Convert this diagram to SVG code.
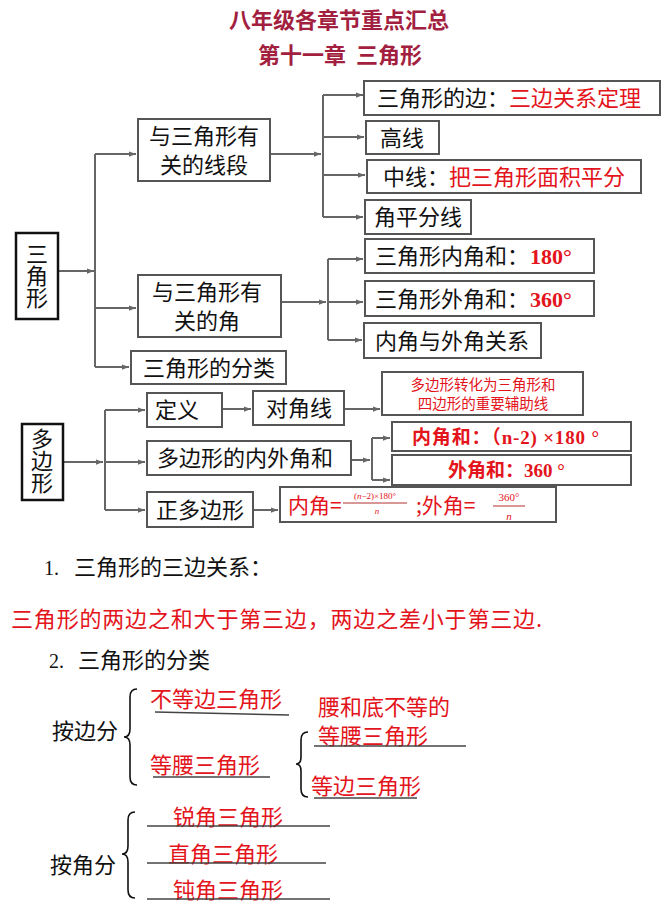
<svg xmlns="http://www.w3.org/2000/svg" width="664" height="912" viewBox="0 0 664 912">
<style>
text{font-family:"Noto Sans CJK SC","Noto Sans",sans-serif;font-size:22px;fill:#111}
.r{fill:#e3141b}
.t{fill:#a31f3f;font-weight:bold}
.b{fill:#fff;stroke:#555;stroke-width:2}
.bk{fill:#fff;stroke:#111;stroke-width:2.5}
.c path{fill:none;stroke:#666;stroke-width:2}
.num{font-family:"Liberation Serif",serif;font-weight:bold}
.ser{font-family:"Liberation Serif",serif}
.ul{stroke:#444;stroke-width:1.5;fill:none}
.br{stroke:#111;stroke-width:1.6;fill:none}
.mid{text-anchor:middle}
.v{writing-mode:vertical-rl;text-anchor:middle}
</style>
<defs>
<marker id="ah" viewBox="0 0 8 8" refX="8" refY="4" markerWidth="7" markerHeight="7" markerUnits="userSpaceOnUse" orient="auto"><path d="M0,1 L8,4 L0,7 z" fill="#666"/></marker>
</defs>
<rect width="664" height="912" fill="#fff"/>

<g id="title">
<text class="t mid" x="339" y="28">八年级各章节重点汇总</text>
<text class="t" x="258" y="63">第十一章<tspan x="356">三角形</tspan></text>
</g>

<g class="c" id="connectors">
<path d="M58,271 H94" marker-end="url(#ah)"/>
<path d="M95,154 V367"/>
<path d="M95,154 H136" marker-end="url(#ah)"/>
<path d="M95,308 H136" marker-end="url(#ah)"/>
<path d="M95,367 H129" marker-end="url(#ah)"/>
<path d="M270,154 H321" marker-end="url(#ah)"/>
<path d="M323,95 V217"/>
<path d="M323,95 H363" marker-end="url(#ah)"/>
<path d="M323,137 H364" marker-end="url(#ah)"/>
<path d="M323,175 H365" marker-end="url(#ah)"/>
<path d="M323,217 H363" marker-end="url(#ah)"/>
<path d="M281,302 H326" marker-end="url(#ah)"/>
<path d="M328,259 V340"/>
<path d="M328,259 H363" marker-end="url(#ah)"/>
<path d="M328,302 H363" marker-end="url(#ah)"/>
<path d="M328,340 H362" marker-end="url(#ah)"/>
<path d="M63,462 H103" marker-end="url(#ah)"/>
<path d="M105,410 V510"/>
<path d="M105,410 H145" marker-end="url(#ah)"/>
<path d="M105,462 H145" marker-end="url(#ah)"/>
<path d="M105,510 H145" marker-end="url(#ah)"/>
<path d="M222,409 H251" marker-end="url(#ah)"/>
<path d="M344,409 H380" marker-end="url(#ah)"/>
<path d="M351,460 H370" marker-end="url(#ah)"/>
<path d="M372,438 V480"/>
<path d="M372,438 H390" marker-end="url(#ah)"/>
<path d="M372,480 H390" marker-end="url(#ah)"/>
<path d="M253,510 H278" marker-end="url(#ah)"/>
</g>

<g id="n-sanjiaoxing">
<rect class="bk" x="16" y="233" width="42" height="86"/>
<text class="v" x="37" y="276">三角形</text>
</g>
<g id="n-xianduan">
<rect class="b" x="138" y="119" width="132" height="62"/>
<text class="mid" x="204" y="144">与三角形有<tspan x="204" dy="29">关的线段</tspan></text>
</g>
<g id="n-bian">
<rect class="b" x="364" y="81" width="296" height="34"/>
<text x="377" y="106">三角形的边：<tspan class="r">三边关系定理</tspan></text>
</g>
<g id="n-gaoxian">
<rect class="b" x="366" y="121" width="73" height="33"/>
<text class="mid" x="402" y="146">高线</text>
</g>
<g id="n-zhongxian">
<rect class="b" x="367" y="160" width="274" height="33"/>
<text x="383" y="185">中线：<tspan class="r">把三角形面积平分</tspan></text>
</g>
<g id="n-jiaopingfen">
<rect class="b" x="365" y="200" width="106" height="34"/>
<text class="mid" x="418" y="225">角平分线</text>
</g>
<g id="n-jiao">
<rect class="b" x="138" y="275" width="143" height="62"/>
<text class="mid" x="207" y="300">与三角形有<tspan x="207" dy="29">关的角</tspan></text>
</g>
<g id="n-neijiaohe">
<rect class="b" x="365" y="239" width="229" height="34"/>
<text x="375" y="264">三角形内角和：<tspan class="r num" x="530">180°</tspan></text>
</g>
<g id="n-waijiaohe">
<rect class="b" x="365" y="281" width="229" height="35"/>
<text x="375" y="307">三角形外角和：<tspan class="r num" x="530">360°</tspan></text>
</g>
<g id="n-guanxi">
<rect class="b" x="364" y="323" width="177" height="35"/>
<text class="mid" x="452" y="349">内角与外角关系</text>
</g>
<g id="n-fenlei">
<rect class="b" x="131" y="351" width="155" height="33"/>
<text class="mid" x="209" y="376">三角形的分类</text>
</g>

<g id="n-duobianxing">
<rect class="bk" x="22" y="424" width="41" height="76"/>
<text class="v" x="42" y="461">多边形</text>
</g>
<g id="n-dingyi">
<rect class="b" x="147" y="393" width="75" height="34"/>
<text class="mid" x="177" y="418">定义</text>
</g>
<g id="n-duijiaoxian">
<rect class="b" x="253" y="391" width="91" height="34"/>
<text class="mid" x="299" y="416">对角线</text>
</g>
<g id="n-fuzhuxian">
<rect class="b" x="382" y="372" width="201" height="43"/>
<text class="r mid" x="483" y="390" style="font-size:14.5px">多边形转化为三角形和<tspan x="483" dy="19">四边形的重要辅助线</tspan></text>
</g>
<g id="n-neiwaijiaohe">
<rect class="b" x="147" y="441" width="204" height="34"/>
<text class="mid" x="245" y="466">多边形的内外角和</text>
</g>
<g id="n-neijiaohe2">
<rect class="b" x="392" y="422" width="239" height="29"/>
<text class="r" x="412" y="444" style="font-size:19px;font-weight:bold" textLength="187">内角和：（<tspan class="num">n-2) ×180 °</tspan></text>
</g>
<g id="n-waijiaohe2">
<rect class="b" x="392" y="455" width="239" height="30"/>
<text class="r" x="448" y="477" style="font-size:19px;font-weight:bold">外角和：<tspan class="num">360 °</tspan></text>
</g>
<g id="n-zhengduobianxing">
<rect class="b" x="147" y="492" width="106" height="35"/>
<text class="mid" x="200" y="518">正多边形</text>
</g>
<g id="n-gongshi">
<rect class="b" x="280" y="487" width="276" height="35"/>
<text class="r" x="288" y="513" style="font-size:21px">内角=</text>
<text class="r ser mid" x="375" y="499" style="font-size:9px">(<tspan font-style="italic">n</tspan>−2)×180°<tspan x="377" dy="15" font-style="italic">n</tspan></text>
<path d="M343,503 H407" stroke="#b03030" stroke-width="1"/>
<text class="r" x="416" y="513" style="font-size:21px">;外角=</text>
<text class="r ser mid" x="509" y="501" style="font-size:11px">360°<tspan x="509" dy="19" font-style="italic">n</tspan></text>
<path d="M493,506 H525" stroke="#b03030" stroke-width="1"/>
</g>

<g id="sec1">
<text x="44" y="575"><tspan class="ser" style="font-size:20px">1.</tspan><tspan x="74">三角形的三边关系：</tspan></text>
<text class="r" x="11" y="627" textLength="531" lengthAdjust="spacing">三角形的两边之和大于第三边，两边之差小于第三边.</text>
</g>

<g id="sec2">
<text x="49" y="668"><tspan class="ser" style="font-size:20px">2.</tspan><tspan x="78">三角形的分类</tspan></text>
<text x="52" y="739">按边分</text>
<path class="br" d="M137,689 Q130,689 130,697 V729 Q130,737 124,737 Q130,737 130,745 V777 Q130,785 137,785"/>
<text class="r" x="150" y="707">不等边三角形</text>
<path class="ul" d="M155,712 L289,715"/>
<text class="r" x="150" y="773">等腰三角形</text>
<path class="ul" d="M153,777 H270"/>
<text class="r" x="318" y="715">腰和底不等的<tspan x="318" dy="29">等腰三角形</tspan></text>
<path class="ul" d="M314,746 H466"/>
<path class="br" d="M308,732 Q301,732 301,740 V757 Q301,764 296,764 Q301,764 301,771 V789 Q301,797 308,797"/>
<text class="r" x="311" y="794">等边三角形</text>
<path class="ul" d="M314,798 H417"/>
<text x="50" y="873">按角分</text>
<path class="br" d="M135,812 Q128,812 128,820 V846 Q128,854 122,854 Q128,854 128,862 V890 Q128,898 135,898"/>
<text class="r" x="173" y="825">锐角三角形</text>
<path class="ul" d="M147,826 H330"/>
<text class="r" x="168" y="862">直角三角形</text>
<path class="ul" d="M147,863 H326"/>
<text class="r" x="173" y="898">钝角三角形</text>
<path class="ul" d="M147,899 H330"/>
</g>
</svg>
